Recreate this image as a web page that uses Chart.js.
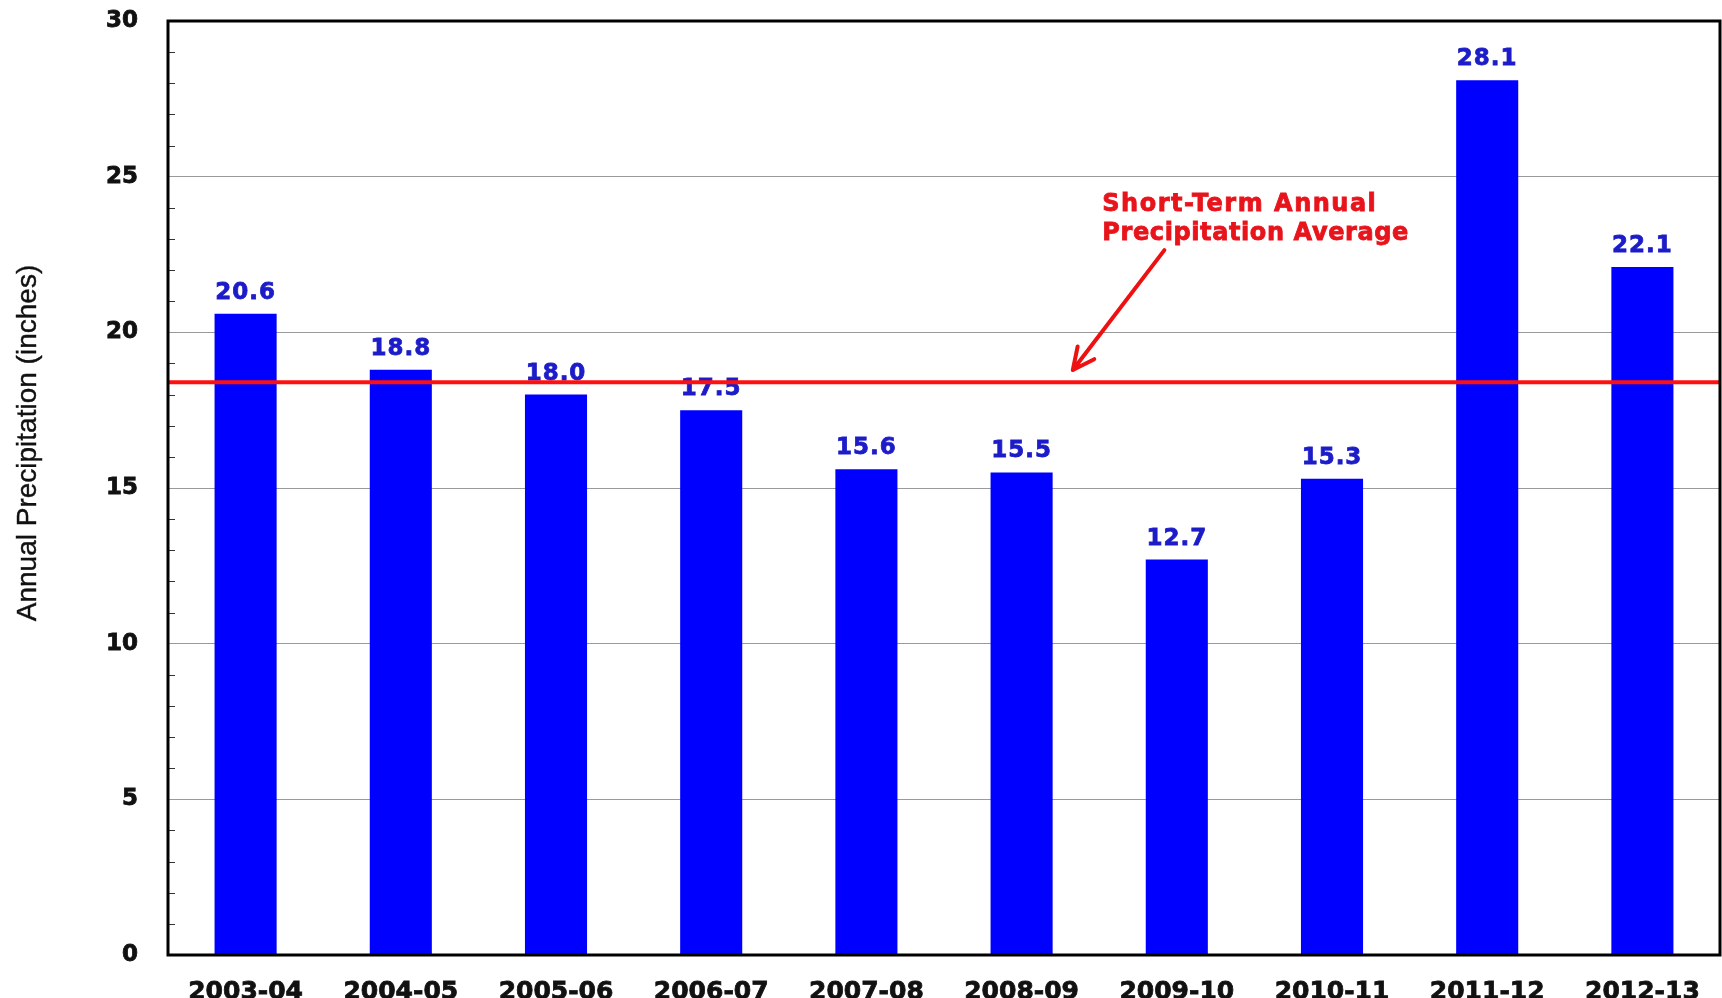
<!DOCTYPE html>
<html>
<head>
<meta charset="utf-8">
<title>Annual Precipitation</title>
<script src="https://cdn.jsdelivr.net/npm/chart.js@4.4.1/dist/chart.umd.min.js"></script>
<style>
    body { margin: 0; background: #fff; }
    #wrap { width: 1722px; height: 998px; }
</style>
</head>
<body>
<div id="wrap"><canvas id="precipChart" width="1722" height="998"></canvas></div>
<script>
// Chart data
const seasons = ['2003-04', '2004-05', '2005-06', '2006-07', '2007-08', '2008-09', '2009-10', '2010-11', '2011-12', '2012-13'];
const precipInches = [20.6, 18.8, 18.0, 17.5, 15.6, 15.5, 12.7, 15.3, 28.1, 22.1];
const averageInches = 18.4;
const yTicks = [0, 5, 10, 15, 20, 25, 30];
const noteLines = ['Short-Term Annual', 'Precipitation Average'];

const BOLD = '"DejaVu Sans", Arial, sans-serif';

// draws the frame, inner minor ticks, value labels, average line, note and y title
const extrasPlugin = {
    id: 'extras',
    afterDatasetsDraw(chart) {
        const ctx = chart.ctx;
        const area = chart.chartArea;
        const x = chart.scales.x;
        const y = chart.scales.y;
        ctx.save();

        // minor ticks pointing inward
        ctx.strokeStyle = '#333';
        ctx.lineWidth = 1;
        for (let v = 1; v < 30; v++) {
            if (v % 5 === 0) continue;
            const py = Math.round(y.getPixelForValue(v)) + 0.5;
            ctx.beginPath();
            ctx.moveTo(area.left, py);
            ctx.lineTo(area.left + 7, py);
            ctx.stroke();
        }

        // value labels above bars
        ctx.fillStyle = '#1c1cc8';
        ctx.strokeStyle = '#1c1cc8';
        ctx.lineWidth = 0.8;
        ctx.font = 'bold 23px ' + BOLD;
        ctx.letterSpacing = '1px';
        ctx.textAlign = 'center';
        ctx.textBaseline = 'alphabetic';
        chart.getDatasetMeta(0).data.forEach((bar, i) => {
            const s = precipInches[i].toFixed(1);
            ctx.fillText(s, bar.x, bar.y - 15);
            ctx.strokeText(s, bar.x, bar.y - 15);
        });

        // average line
        const ay = y.getPixelForValue(averageInches);
        ctx.strokeStyle = '#ff1010';
        ctx.lineWidth = 4;
        ctx.beginPath();
        ctx.moveTo(area.left, ay);
        ctx.lineTo(area.right, ay);
        ctx.stroke();

        // note text
        ctx.fillStyle = '#e8141c';
        ctx.strokeStyle = '#e8141c';
        ctx.lineWidth = 0.8;
        ctx.font = 'bold 24px ' + BOLD;
        ctx.letterSpacing = '1.5px';
        ctx.textAlign = 'left';
        const nx = x.getPixelForValue(5.52);
        const l1 = y.getPixelForValue(23.9), l2 = y.getPixelForValue(22.97);
        ctx.fillText(noteLines[0], nx, l1);
        ctx.strokeText(noteLines[0], nx, l1);
        ctx.letterSpacing = '0.6px';
        ctx.fillText(noteLines[1], nx, l2);
        ctx.strokeText(noteLines[1], nx, l2);
        ctx.letterSpacing = '0px';

        // arrow
        const sx = x.getPixelForValue(5.92), sy = y.getPixelForValue(22.64);
        const tx = x.getPixelForValue(5.33), ty = y.getPixelForValue(18.79);
        const ang = Math.atan2(ty - sy, tx - sx);
        ctx.strokeStyle = '#ee1111';
        ctx.lineWidth = 4;
        ctx.lineCap = 'round';
        ctx.beginPath();
        ctx.moveTo(sx, sy);
        ctx.lineTo(tx, ty);
        ctx.moveTo(tx, ty);
        ctx.lineTo(tx - 24 * Math.cos(ang - 0.45), ty - 24 * Math.sin(ang - 0.45));
        ctx.moveTo(tx, ty);
        ctx.lineTo(tx - 24 * Math.cos(ang + 0.45), ty - 24 * Math.sin(ang + 0.45));
        ctx.stroke();
        ctx.lineCap = 'butt';

        // frame
        ctx.strokeStyle = '#000';
        ctx.lineWidth = 3;
        ctx.strokeRect(area.left, area.top, area.right - area.left, area.bottom - area.top);

        // y axis title
        ctx.fillStyle = '#111';
        ctx.strokeStyle = '#111';
        ctx.lineWidth = 0.4;
        ctx.font = '28px "Liberation Sans", Arial, sans-serif';
        ctx.textAlign = 'center';
        ctx.textBaseline = 'middle';
        ctx.translate(28, 443);
        ctx.rotate(-Math.PI / 2);
        ctx.fillText('Annual Precipitation (inches)', 0, 0);
        ctx.strokeText('Annual Precipitation (inches)', 0, 0);

        ctx.restore();
    }
};

function initPrecipChart() {
    const ctx = document.getElementById('precipChart').getContext('2d');
    const precipChart = new Chart(ctx, {
        type: 'bar',
        data: {
            labels: seasons,
            datasets: [{
                label: 'Annual Precipitation',
                data: precipInches,
                backgroundColor: '#0000ff',
                borderWidth: 0,
                categoryPercentage: 1.0,
                barPercentage: 0.4
            }]
        },
        options: {
            responsive: false,
            animation: false,
            layout: { padding: { top: 21, right: 2, left: 0, bottom: 0 } },
            plugins: {
                legend: { display: false },
                tooltip: { enabled: false }
            },
            scales: {
                x: {
                    grid: { display: false },
                    border: { display: false },
                    ticks: {
                        color: '#111',
                        padding: 14,
                        maxRotation: 0,
                        textStrokeColor: '#111',
                        textStrokeWidth: 0.8,
                        font: { family: BOLD, size: 25, weight: 'bold' }
                    },
                    afterFit(scale) {
                        scale.height = 43;
                        scale.paddingLeft = 0;
                        scale.paddingRight = 0;
                    }
                },
                y: {
                    min: 0,
                    max: 30,
                    afterBuildTicks(scale) {
                        scale.ticks = yTicks.map(v => ({ value: v }));
                    },
                    grid: {
                        drawTicks: false,
                        color: '#9a9a9a',
                        lineWidth: 1
                    },
                    border: { display: false },
                    ticks: {
                        color: '#111',
                        padding: 30,
                        textStrokeColor: '#111',
                        textStrokeWidth: 0.8,
                        font: { family: BOLD, size: 23, weight: 'bold' }
                    },
                    afterFit(scale) {
                        scale.width = 168;
                        scale.paddingTop = 0;
                        scale.paddingBottom = 0;
                    }
                }
            }
        },
        plugins: [extrasPlugin]
    });
}

window.onload = function() {
    initPrecipChart();
};
</script>
</body>
</html>
